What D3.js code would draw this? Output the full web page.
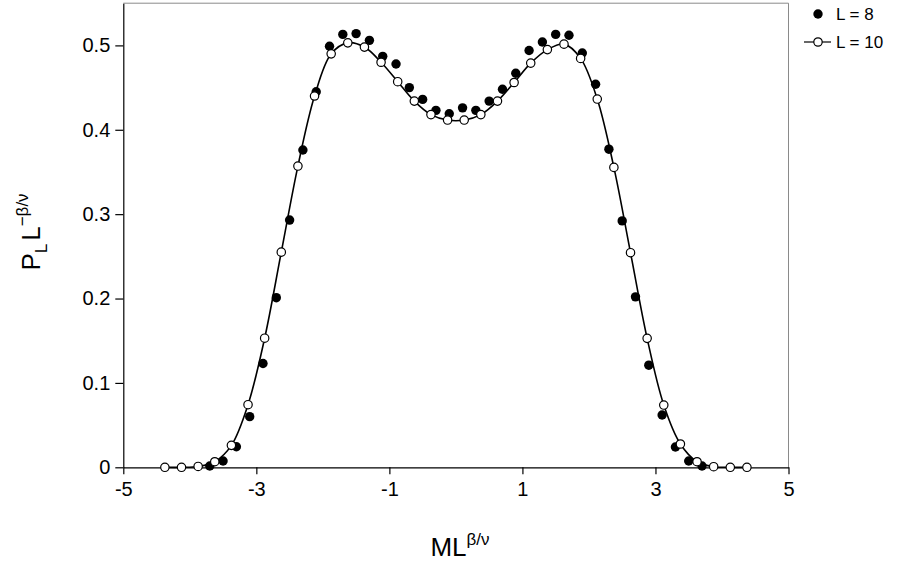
<!DOCTYPE html>
<html>
<head>
<meta charset="utf-8">
<script src="https://cdn.jsdelivr.net/npm/d3@7"></script>
<style>
  body { margin: 0; background: #fff; }
  svg text { font-family: Arial, "Liberation Sans", sans-serif; fill: #000; }
</style>
</head>
<body>
<svg class="canvas"></svg>
<script>
// L = 8 (filled circles)
const xL8 = [-3.7, -3.5, -3.3, -3.1, -2.9, -2.7, -2.5, -2.3, -2.1, -1.9, -1.7, -1.5, -1.3, -1.1, -0.9, -0.7, -0.5, -0.3, -0.1,
             0.1, 0.3, 0.5, 0.7, 0.9, 1.1, 1.3, 1.5, 1.7, 1.9, 2.1, 2.3, 2.5, 2.7, 2.9, 3.1, 3.3, 3.5, 3.7];
const yL8 = [0.0016, 0.0075, 0.0244, 0.060, 0.123, 0.201, 0.293, 0.376, 0.445, 0.499, 0.513, 0.514, 0.506, 0.487, 0.478, 0.450, 0.436, 0.423, 0.419,
             0.426, 0.423, 0.434, 0.448, 0.467, 0.494, 0.504, 0.513, 0.512, 0.491, 0.454, 0.377, 0.292, 0.202, 0.121, 0.062, 0.024, 0.0075, 0.0015];

// L = 10 (open circles + line)
const xL10 = [-4.375, -4.125, -3.875, -3.625, -3.375, -3.125, -2.875, -2.625, -2.375, -2.125, -1.875, -1.625, -1.375, -1.125, -0.875, -0.625, -0.375, -0.125,
              0.125, 0.375, 0.625, 0.875, 1.125, 1.375, 1.625, 1.875, 2.125, 2.375, 2.625, 2.875, 3.125, 3.375, 3.625, 3.875, 4.125, 4.375];
const yL10 = [0, 0, 0.001, 0.0066, 0.026, 0.0742, 0.153, 0.255, 0.357, 0.440, 0.490, 0.503, 0.498, 0.480, 0.457, 0.434, 0.418, 0.4115,
              0.4115, 0.418, 0.434, 0.456, 0.479, 0.495, 0.5015, 0.4846, 0.4364, 0.3554, 0.2543, 0.1528, 0.0738, 0.0276, 0.0066, 0.0007, 0, 0];

const xTicks = [-5, -3, -1, 1, 3, 5];
const yTicks = [0, 0.1, 0.2, 0.3, 0.4, 0.5];
const legendLabels = ["L = 8", "L = 10"];

const w = 898;
const h = 566;

const svg = d3.select("svg.canvas")
    .attr("width", w)
    .attr("height", h);

const xScale = d3.scaleLinear().domain([-5, 5]).range([123.3, 788.5]);
const yScale = d3.scaleLinear().domain([0, 0.55]).range([467.3, 3.2]);

const l8 = xL8.map((x, i) => [x, yL8[i]]);
const l10 = xL10.map((x, i) => [x, yL10[i]]);

// frame (top / right)
svg.append("path")
    .attr("d", `M${xScale(-5)},${yScale(0.55)}H${xScale(5)}V${yScale(0)}`)
    .attr("fill", "none")
    .attr("stroke", "#8a8a8a")
    .attr("stroke-width", 1);

// axes
const xAxis = d3.axisBottom(xScale).tickValues(xTicks).tickSize(7).tickSizeOuter(0).tickPadding(8)
    .tickFormat(d => String(d));
const yAxis = d3.axisLeft(yScale).tickValues(yTicks).tickSize(8).tickSizeOuter(0).tickPadding(5)
    .tickFormat(d => d === 0 ? "0" : d.toFixed(1));

svg.append("g")
    .attr("transform", `translate(0, ${yScale(0)})`)
    .call(xAxis)
    .call(g => g.selectAll("text").attr("font-size", 20).attr("font-family", null));

svg.append("g")
    .attr("transform", `translate(${xScale(-5)}, 0)`)
    .call(yAxis)
    .call(g => g.selectAll("text").attr("font-size", 20).attr("font-family", null));

svg.selectAll(".domain, .tick line").attr("stroke", "#000").attr("stroke-width", 1.2);

// L = 8 markers
svg.append("g")
    .selectAll("circle")
    .data(l8)
    .join("circle")
    .attr("cx", d => xScale(d[0]))
    .attr("cy", d => yScale(d[1]))
    .attr("r", 4.7)
    .attr("fill", "#000");

// L = 10 line and markers
const line = d3.line()
    .x(d => xScale(d[0]))
    .y(d => yScale(d[1]))
    .curve(d3.curveCatmullRom);

svg.append("path")
    .datum(l10)
    .attr("d", line)
    .attr("fill", "none")
    .attr("stroke", "#000")
    .attr("stroke-width", 1.6);

svg.append("g")
    .selectAll("circle")
    .data(l10)
    .join("circle")
    .attr("cx", d => xScale(d[0]))
    .attr("cy", d => yScale(d[1]))
    .attr("r", 4.2)
    .attr("fill", "#fff")
    .attr("stroke", "#000")
    .attr("stroke-width", 1.2);

// axis titles
const xTitle = svg.append("text")
    .attr("x", 460)
    .attr("y", 556)
    .attr("text-anchor", "middle")
    .attr("font-size", 26);
xTitle.append("tspan").text("ML");
xTitle.append("tspan").attr("dy", -11).attr("font-size", 17).text("\u03B2/\u03BD");

const yTitle = svg.append("text")
    .attr("transform", `translate(40, 232) rotate(-90)`)
    .attr("text-anchor", "middle")
    .attr("font-size", 26);
yTitle.append("tspan").text("P");
yTitle.append("tspan").attr("dy", 7).attr("font-size", 17).text("L");
yTitle.append("tspan").attr("dy", -7).attr("dx", 3).text("L");
yTitle.append("tspan").attr("dy", -12).attr("font-size", 17).text("\u2212\u03B2/\u03BD");

// legend
const legend = svg.append("g");
legend.append("circle").attr("cx", 818).attr("cy", 14).attr("r", 4.7).attr("fill", "#000");
legend.append("text").attr("x", 836).attr("y", 20).attr("font-size", 17).text(legendLabels[0]);
legend.append("line").attr("x1", 804).attr("x2", 831).attr("y1", 42).attr("y2", 42)
    .attr("stroke", "#000").attr("stroke-width", 1.2);
legend.append("circle").attr("cx", 818).attr("cy", 42).attr("r", 4.2)
    .attr("fill", "#fff").attr("stroke", "#000").attr("stroke-width", 1.2);
legend.append("text").attr("x", 836).attr("y", 48).attr("font-size", 17).text(legendLabels[1]);
</script>
</body>
</html>
